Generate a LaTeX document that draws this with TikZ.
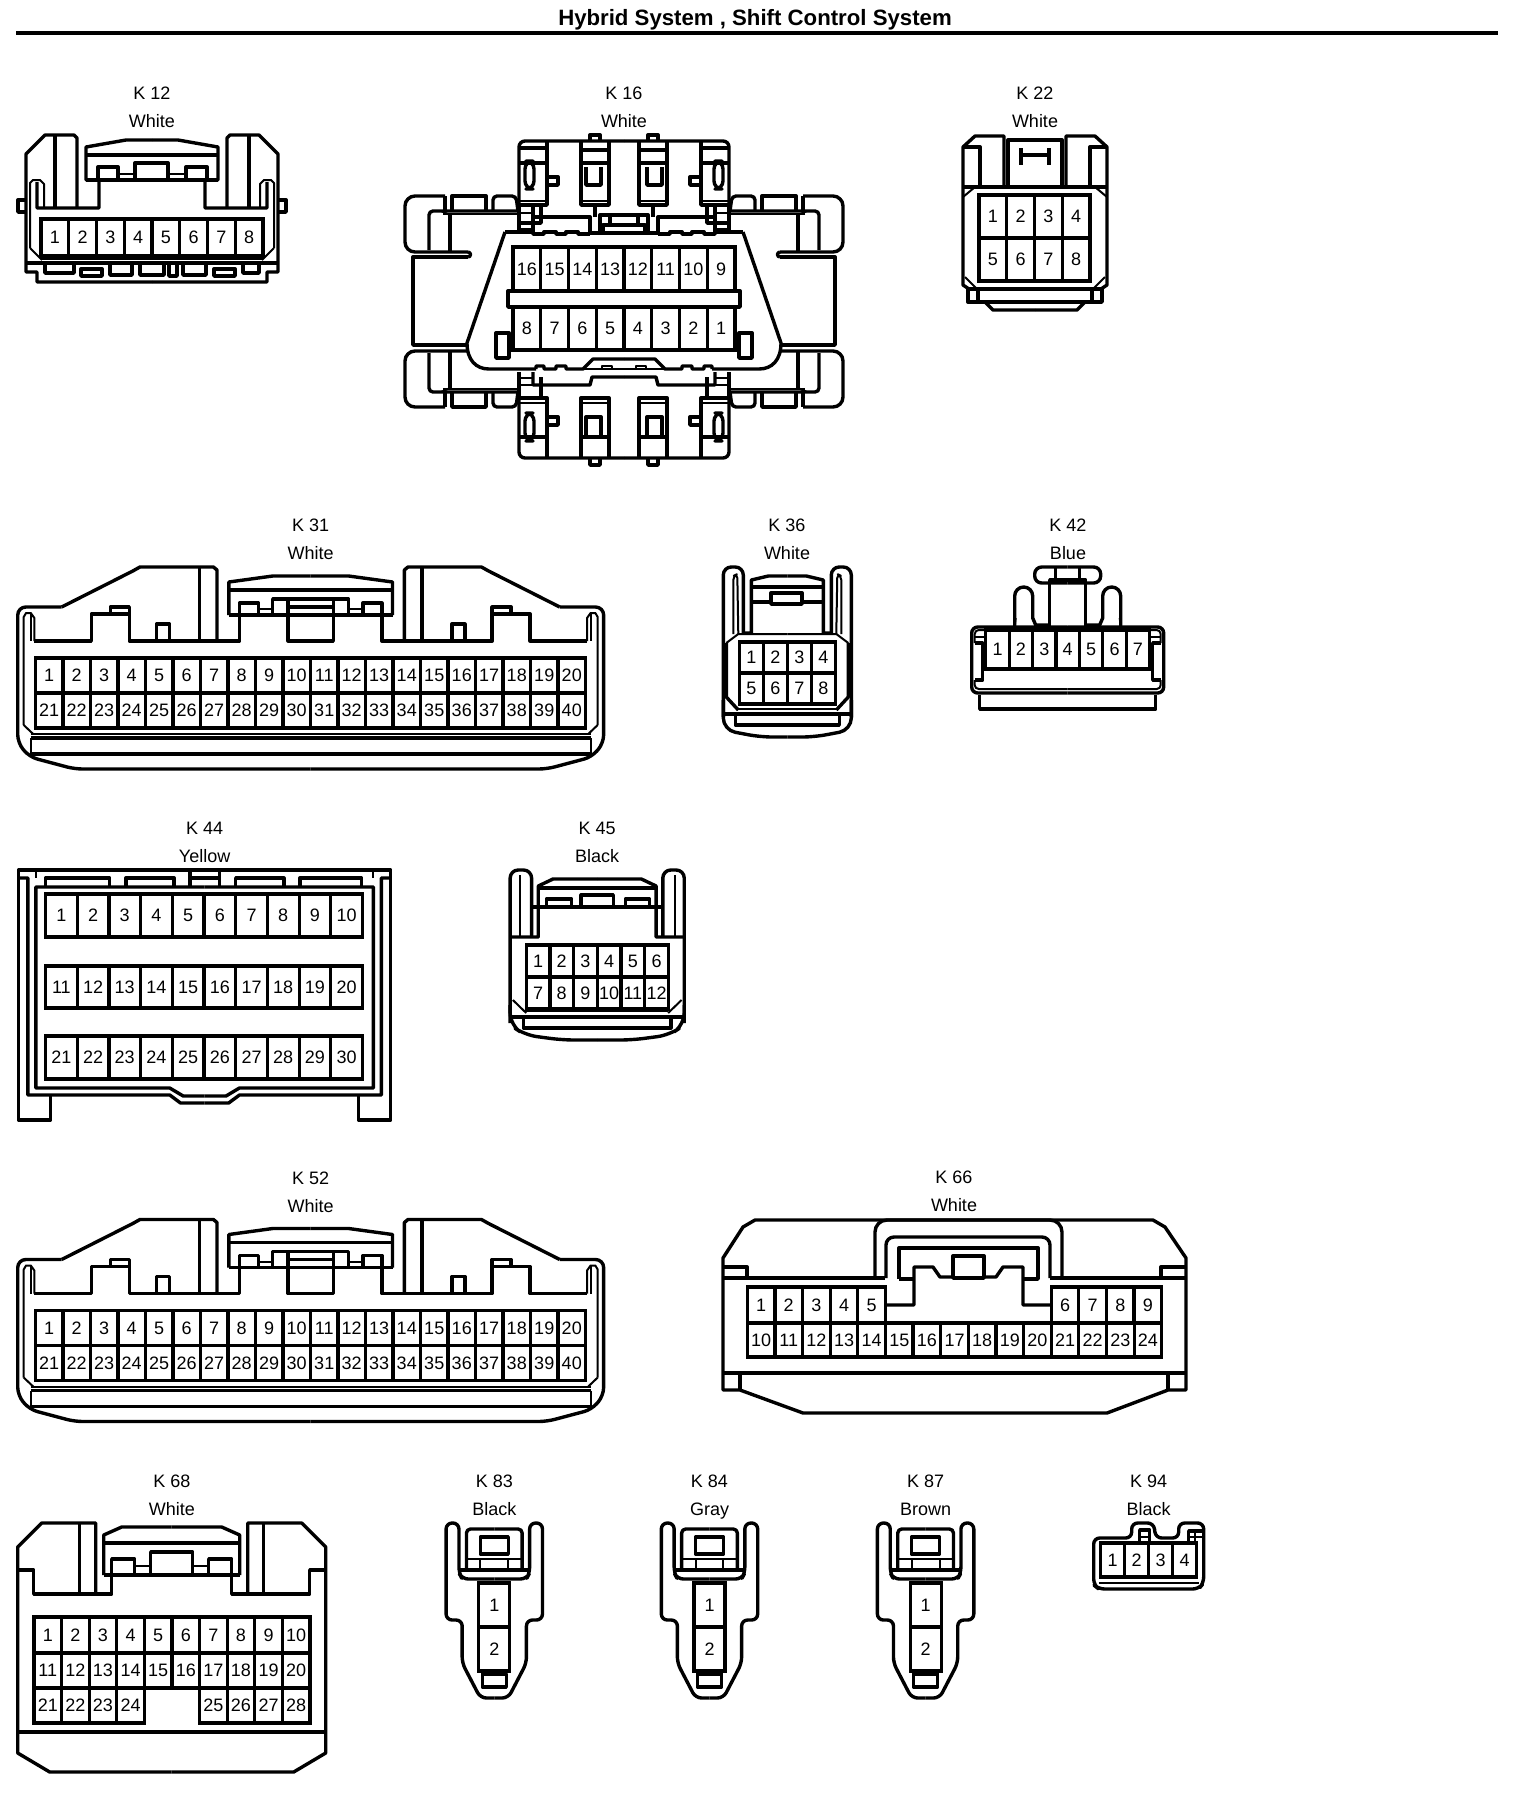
\documentclass[tikz,border=0pt]{standalone}
\usepackage{fontspec}
\setmainfont{Liberation Sans}
\tikzstyle{body}=[line width=1.7pt,line join=round]
\tikzstyle{fine}=[line width=1pt,line join=round]
\tikzstyle{pincell}=[draw,line width=1.6pt,inner sep=0pt,outer sep=0pt,font=\fontsize{9}{9}\selectfont]
\tikzstyle{caption}=[inner sep=0pt,anchor=base,font=\fontsize{9}{9}\selectfont]
% name, left, top, cell width, cell height, pin numbers
\newcommand{\pinrow}[6]{%
  \foreach \pinno [count=\pinidx from 0] in {#6} {
    \node[pincell,minimum width=#4*0.5pt,minimum height=#5*0.5pt] (#1-\pinno) at ({#2+(\pinidx+0.5)*#4},{#3+0.5*#5}) {\pinno};
  }}
% name, x, y, connector, colour
\newcommand{\connlabel}[5]{%
  \node[caption] (#1id) at (#2,#3+6.5) {#4};
  \node[caption] (#1col) at (#2,#3+34) {#5};}
% the 40 pin housing
\newcommand{\widebody}[1]{%
  \foreach \sgn in {1,-1}{
    \begin{scope}[shift={(310.7,#1)},xscale=\sgn*1.186]
      \draw[body,rounded corners=4pt] (0,769) -- (-199,769) -- (-237,757) -- (-247,743) -- (-247,607) -- (-210,607);
      \draw[body] (-210,607) -- (-150,571) -- (-144,567) -- (-82,567) -- (-79,570) -- (-79,641);
      \draw[body] (-94,567) -- (-94,641);
      \draw[body] (-233,641) -- (-185,641) -- (-185,614) -- (-153,614) -- (-153,641) -- (-60,641) -- (-60,615);
      \draw[body] (-169,614) -- (-169,607) -- (-153,607) -- (-153,614);
      \draw[body] (-130,641) -- (-130,624) -- (-119,624) -- (-119,641);
      \draw[fine] (-242,725) -- (-242,617) -- (-240,613) -- (-236,613) -- (-233,618) -- (-233,641);
      \draw[fine] (-236,613) -- (-236,641);
      \draw[fine] (-242,725) -- (-234,734);
      \draw[body] (-69,615) -- (-69,582) -- (-32,576) -- (0,576);
      \draw[body] (-69,590) -- (0,590);
      \draw[body] (-69,615) -- (0,615);
      \draw[body] (-60,615) -- (-60,603) -- (-44,603) -- (-44,615);
      \draw[fine] (-44,609) -- (-32,609);
      \draw[body] (-32,615) -- (-32,599) -- (0,599);
      \draw[body] (-19,599) -- (-19,641) -- (0,641);
      \draw[body] (-19,607) -- (0,607);
      \draw[fine] (-236,734) -- (0,734);
      \draw[body] (-236,738) -- (0,738);
      \draw[fine] (-236,738) -- (-236,756);
      \draw[body] (-236,754) -- (0,754);
    \end{scope}
  }
  \pinrow{w#1a}{35.5}{658+#1}{27.5}{35}{1,2,3,4,5,6,7,8,9,10,11,12,13,14,15,16,17,18,19,20}
  \pinrow{w#1b}{35.5}{693+#1}{27.5}{35}{21,22,23,24,25,26,27,28,29,30,31,32,33,34,35,36,37,38,39,40}
}
% the two pin plug
\newcommand{\smallplug}[2]{%
  \foreach \sgn in {1,-1}{
    \begin{scope}[shift={(#1,0)},xscale=\sgn*1.071]
      \draw[body,rounded corners=3pt] (0,1579) -- (-30,1579) -- (-33,1573) -- (-33,1523) -- (-45,1523) -- (-45,1620) -- (-30,1620) -- (-30,1663) -- (-13,1698) -- (0,1698);
      \draw[body,rounded corners=2pt] (-26,1570) -- (-26,1529) -- (0,1529);
      \draw[fine] (-26,1559) -- (0,1559);
      \draw[fine] (-13,1559) -- (-13,1570);
      \draw[body] (-33,1570) -- (0,1570);
    \end{scope}
  }
  \draw[body] (#1-14,1537) rectangle (#1+14,1554);
  \draw[body] (#1-12,1674) rectangle (#1+12,1687);
  \node[pincell,minimum width=15.5pt,minimum height=22pt] (#2-1) at (#1,1605) {1};
  \node[pincell,minimum width=15.5pt,minimum height=22pt] (#2-2) at (#1,1649) {2};
}
\begin{document}
\begin{tikzpicture}[x=0.5pt,y=-0.5pt]
  \useasboundingbox (0,0) rectangle (1520,1796);
  \node[inner sep=0pt,font=\fontsize{11.1}{11}\selectfont\bfseries] (title) at (755,20) {Hybrid System , Shift Control System};
  \coordinate (ruleL) at (16,33);
  \coordinate (ruleR) at (1498,33);
  \draw[line width=2pt] (ruleL) -- (ruleR);
  %
  % K 12
  \connlabel{k12}{152}{93}{K 12}{White}
  \foreach \sgn in {1,-1}{
    \begin{scope}[shift={(152,0)},xscale=\sgn]
      \draw[body] (0,282) -- (-115,282) -- (-115,272) -- (-126,272) -- (-126,154) -- (-107,135) -- (-78,135) -- (-75,138) -- (-75,208);
      \draw[body] (-97,135) -- (-97,208);
      \draw[body] (-115,182) -- (-115,208) -- (-53,208) -- (-53,180) -- (-66,180) -- (-66,147) -- (-26,140) -- (0,140);
      \draw[body] (-66,155) -- (0,155);
      \draw[body] (-66,180) -- (-53,180);
      \draw[body] (-126,200) -- (-134,200) -- (-134,212) -- (-126,212);
      \draw[fine] (-122,248) -- (-122,183) -- (-119,180) -- (-112,180) -- (-108,184) -- (-108,208);
      \draw[fine] (-122,248) -- (-110,260);
      \draw[body] (-126,263) -- (0,263);
      \draw[fine] (-111,259) -- (0,259);
    \end{scope}
  }
  \foreach \potl/\potr/\potb in {45/74/273,110/132/275,140/164/275,169/177/276,183/206/275,243/259/273}{
    \draw[body] (\potl,264) -- (\potl,\potb) -- (\potr,\potb) -- (\potr,264);
  }
  \draw[body] (81,269) rectangle (102,276);
  \draw[body] (214,269) rectangle (235,276);
  \draw[fine] (118,174) -- (136,174);
  \draw[fine] (168,174) -- (186,174);
  \draw[body] (98,180) -- (98,167) -- (118,167) -- (118,180);
  \draw[body] (135,180) -- (135,163) -- (168,163) -- (168,180);
  \draw[body] (186,180) -- (186,167) -- (207,167) -- (207,180);
  \draw[body] (86,180) -- (218,180);
  \pinrow{k12}{41}{219}{27.75}{37}{1,2,3,4,5,6,7,8}
  %
  % K 16
  \connlabel{k16}{624}{93}{K 16}{White}
  \foreach \sgn in {1,-1}{
    \begin{scope}[shift={(624,0)},xscale=\sgn]
      \draw[body,rounded corners=3pt] (0,141) -- (-105,141) -- (-105,205);
      \draw[body] (-105,148) -- (-77,148);
      \draw[body] (-77,141) -- (-77,205) -- (-105,205);
      \draw[body] (-105,163) -- (-77,163);
      \draw[fine] (-105,201) -- (-77,201);
      \draw[body] (-43,141) -- (-43,205) -- (-15,205) -- (-15,141);
      \draw[body] (-43,150) -- (-15,150);
      \draw[body] (-43,163) -- (-15,163);
      \draw[fine] (-43,201) -- (-15,201);
      \draw[body] (-38,167) -- (-38,185) -- (-23,185) -- (-23,167);
      \draw[body] (-34,141) -- (-34,135) -- (-24,135) -- (-24,141);
      \draw[body,rounded corners=4pt] (-99,161) rectangle (-90,189);
      \draw[body] (-77,177) -- (-66,177) -- (-66,185) -- (-77,185);
      % middle latch
      \draw[body] (-29,205) -- (-29,217);
      \draw[body] (-91,207) -- (-91,232);
      \draw[body] (-91,217) -- (-34,217) -- (-34,232);
      \draw[body] (-83,207) -- (-83,223) -- (-105,223);
      \draw[body] (-105,207) -- (-105,232);
      \draw[fine] (-105,213) -- (-91,213);
      \draw[fine] (-105,229) -- (-91,229);
      \draw[body] (-24,232) -- (-24,215) -- (0,215);
      \draw[body] (-14,215) -- (-14,225);
      \draw[body] (-21,232) -- (-21,225) -- (0,225);
      \draw[body] (-119,232) -- (-91,232) -- (-91,234) -- (-80,234) -- (-80,232) -- (-68,232) -- (-68,234) -- (-58,234) -- (-58,232) -- (-46,232) -- (-46,234) -- (-34,234);
      \draw[body] (-34,233) -- (0,233);
      % collar
      \draw[body] (-119,232) -- (-157,343) .. controls (-157,360) and (-148,369) .. (-135,369) -- (-88,369);
      \draw[body] (-88,369) -- (-88,366) -- (-80,366) -- (-80,369) -- (-68,369) -- (-68,366) -- (-58,366) -- (-58,369) -- (-41,369) -- (-31,359) -- (0,359);
      \draw[fine] (-41,369) -- (0,369);
      \draw[fine] (-22,369) -- (-22,366) -- (-12,366) -- (-12,369);
      \draw[body] (-128,333) rectangle (-115,358);
      % lower latch
      \draw[body] (-91,372) -- (-91,385) -- (-34,385) -- (-32,377) -- (0,377);
      \draw[body] (-83,377) -- (-83,398);
      \draw[body] (-105,372) -- (-105,398);
      \draw[fine] (-105,378) -- (-91,378);
      \draw[fine] (-105,385) -- (-91,385);
      % lower housing
      \draw[body,rounded corners=3pt] (-105,398) -- (-105,458) -- (0,458);
      \draw[body] (-105,398) -- (-77,398) -- (-77,458);
      \draw[fine] (-105,403) -- (-77,403);
      \draw[body] (-105,437) -- (-77,437);
      \draw[body] (-43,458) -- (-43,398) -- (-15,398) -- (-15,458);
      \draw[fine] (-43,403) -- (-15,403);
      \draw[body] (-43,437) -- (-15,437);
      \draw[body] (-38,437) -- (-38,417) -- (-23,417) -- (-23,437);
      \draw[body,rounded corners=4pt] (-99,413) rectangle (-90,441);
      \draw[body] (-77,417) -- (-66,417) -- (-66,425) -- (-77,425);
      \draw[body] (-34,458) -- (-34,465) -- (-24,465) -- (-24,458);
      % side wings
      \draw[body] (-156,257) -- (-211,257) -- (-211,345) -- (-157,345);
      \foreach \flp/\off in {1/0,-1/603}{
        \begin{scope}[shift={(0,\off)},yscale=\flp]
          \draw[body,rounded corners=5pt] (-179,196) -- (-219,196) -- (-219,252) -- (-156,252);
          \draw[body] (-172,211) -- (-172,196) -- (-138,196) -- (-138,211);
          \draw[body,rounded corners=2pt] (-131,211) -- (-131,196) -- (-108,196) -- (-106,211);
          \draw[body] (-179,196) -- (-179,211);
          \draw[body,rounded corners=2pt] (-195,250) -- (-195,211) -- (-106,211);
          \draw[fine] (-181,214) -- (-104,214);
          \draw[body] (-174,214) -- (-174,252);
          \draw[fine] (-183,211) -- (-174,215);
        \end{scope}
      }
      \draw[body] (-156,252) arc[start angle=-90,end angle=90,radius=2.5];
    \end{scope}
  }
  \draw[body] (508,291) rectangle (740,307);
  \pinrow{k16t}{513}{247}{27.75}{44}{16,15,14,13,12,11,10,9}
  \pinrow{k16b}{513}{307}{27.75}{43}{8,7,6,5,4,3,2,1}
  %
  % K 22
  \connlabel{k22}{1035}{93}{K 22}{White}
  \foreach \sgn in {1,-1}{
    \begin{scope}[shift={(1035,0)},xscale=\sgn]
      \draw[body] (-66,289) -- (-72,285) -- (-72,147) -- (-60,136) -- (-31,136) -- (-31,187);
      \draw[body] (-72,147) -- (-55,147) -- (-55,187);
      \draw[body] (-72,187) -- (0,187);
      \draw[fine] (-72,197) -- (-60,187);
      \draw[fine] (-70,277) -- (-59,288);
      \draw[body] (-27,187) -- (-27,140) -- (0,140);
      \draw[body] (-14,148) -- (-14,165);
      \draw[body] (-14,155) -- (0,155);
      \draw[body] (-66,289) -- (0,289);
      \draw[body] (-67,289) -- (-67,302) -- (0,302);
      \draw[body] (-57,289) -- (-57,302);
      \draw[body] (-50,302) -- (-42,310) -- (0,310);
    \end{scope}
  }
  \pinrow{k22a}{979}{195}{27.75}{43}{1,2,3,4}
  \pinrow{k22b}{979}{238}{27.75}{43}{5,6,7,8}
  %
  % K 31
  \connlabel{k31}{310.7}{525}{K 31}{White}
  \widebody{0}
  %
  % K 36
  \connlabel{k36}{787}{525}{K 36}{White}
  \foreach \sgn in {1,-1}{
    \begin{scope}[shift={(787.3,0)},xscale=\sgn]
      \draw[body,rounded corners=4pt] (-44,633) -- (-44,567) -- (-64,567) -- (-64,717);
      \draw[body,rounded corners=6pt] (-64,700) -- (-64,730) -- (-27,737) -- (0,737);
      \draw[fine,rounded corners=2pt] (-54,634) -- (-54,576) -- (-50,574) -- (-49,634);
      \draw[body] (-44,633) -- (-36,633) -- (-36,580) -- (-19,576) -- (0,576);
      \draw[body] (-36,587) -- (0,587);
      \draw[body] (-36,602) -- (-16,602);
      \draw[fine] (-61,643) -- (-49,634) -- (0,634);
      \draw[body] (-61,643) -- (-61,697) -- (-49,710);
      \draw[fine] (-49,709) -- (0,709);
      \draw[body] (-64,714) -- (0,714);
      \draw[body] (-52,714) -- (-52,725) -- (0,725);
    \end{scope}
  }
  \draw[body] (771,593) rectangle (802,604);
  \pinrow{k36a}{739.3}{642}{24}{31}{1,2,3,4}
  \pinrow{k36b}{739.3}{673}{24}{31}{5,6,7,8}
  %
  % K 42
  \connlabel{k42}{1068}{525}{K 42}{Blue}
  \foreach \sgn in {1,-1}{
    \begin{scope}[shift={(1067.7,0)},xscale=\sgn]
      \draw[body,rounded corners=3pt] (0,627) -- (-96,627) -- (-96,693) -- (0,693);
      \draw[fine,rounded corners=2pt] (0,630) -- (-93,630) -- (-93,643);
      \draw[body] (-93,643) -- (-85,643) -- (-85,680) -- (-93,680);
      \draw[fine] (-93,637) -- (-83,637);
      \draw[fine,rounded corners=2pt] (-93,680) -- (-93,689) -- (0,689);
      \draw[body] (-88,695) -- (-88,709) -- (0,709);
      \draw[body,rounded corners=3.5pt] (0,567) -- (-33,567) -- (-33,583) -- (0,583);
      \draw[body] (-12,567) -- (-12,580);
      \draw[body] (-18,628) -- (-18,580) -- (0,580);
      \draw[body] (-18,628) -- (0,628);
      \draw[body] (-53,626) -- (-53,596) arc[start angle=180,end angle=360,radius=9] -- (-35,618) -- (-32,625) -- (-18,625);
      \draw[fine] (-53,626) -- (-52,618);
    \end{scope}
  }
  \pinrow{k42}{985.8}{630}{23.4}{39}{1,2,3,4,5,6,7}
  %
  % K 44
  \connlabel{k44}{204.6}{828}{K 44}{Yellow}
  \foreach \sgn in {1,-1}{
    \begin{scope}[shift={(204.6,0)},xscale=\sgn*1.339]
      \draw[body] (0,870) -- (-139,870) -- (-139,1120) -- (-115,1120) -- (-115,1095);
      \draw[body] (-139,878) -- (-132,878) -- (-132,1095) -- (-26,1095) -- (-18,1103) -- (0,1103);
      \draw[fine] (-126,870) -- (-126,878);
      \draw[body] (0,887) -- (-126,887) -- (-126,1088) -- (-26,1088) -- (-16,1096) -- (0,1096);
    \end{scope}
  }
  \begin{scope}[xscale=1.339]
    \foreach \tabl/\tabr in {34/82,94/130,176/212,224/270}{
      \draw[body] (\tabl,887) -- (\tabl,878) -- (\tabr,878) -- (\tabr,887);
    }
    \draw[body] (142,870) -- (142,887);
    \draw[body] (164,870) -- (164,887);
    \draw[body] (142,878) -- (164,878);
  \end{scope}
  \pinrow{k44a}{45.5}{894}{31.7}{43}{1,2,3,4,5,6,7,8,9,10}
  \pinrow{k44b}{45.5}{966}{31.7}{42}{11,12,13,14,15,16,17,18,19,20}
  \pinrow{k44c}{45.5}{1036}{31.7}{43}{21,22,23,24,25,26,27,28,29,30}
  %
  % K 45
  \connlabel{k45}{597.2}{828}{K 45}{Black}
  \foreach \sgn in {1,-1}{
    \begin{scope}[shift={(597.2,0)},xscale=\sgn*1.339]
      \draw[body,rounded corners=4pt] (-49,937) -- (-49,870) -- (-65,870) -- (-65,1023);
      \draw[body,rounded corners=6pt] (-65,1005) -- (-65,1025) -- (-54,1035) -- (-26,1040) -- (0,1040);
      \draw[fine] (-58,937) -- (-58,875);
      \draw[body] (-65,937) -- (-44,937) -- (-44,886) -- (-33,879) -- (0,879);
      \draw[body] (-49,907) -- (0,907);
      \draw[body] (-44,888) -- (0,888);
      \draw[fine] (-63,1000) -- (-53,1013);
      \draw[fine] (-53,1011) -- (0,1011);
      \draw[body] (-65,1017) -- (0,1017);
      \draw[body] (-55,1017) -- (-55,1028) -- (0,1028);
    \end{scope}
  }
  \begin{scope}[xscale=1.339]
    \draw[body] (408,907) -- (408,899) -- (427,899) -- (427,907);
    \draw[body] (434,907) -- (434,895) -- (458,895) -- (458,907);
    \draw[body] (467,907) -- (467,899) -- (485,899) -- (485,907);
  \end{scope}
  \pinrow{k45a}{526.2}{945}{23.7}{32}{1,2,3,4,5,6}
  \pinrow{k45b}{526.2}{977}{23.7}{32}{7,8,9,10,11,12}
  %
  % K 52
  \connlabel{k52}{310.7}{1178}{K 52}{White}
  \widebody{652.5}
  %
  % K 66
  \connlabel{k66}{954}{1177}{K 66}{White}
  \draw[body] (723,1390) -- (723,1258) -- (743,1227) -- (755,1220) -- (1153,1220) -- (1165,1227) -- (1186,1258) -- (1186,1390) -- (1168,1390) -- (1107,1413) -- (803,1413) -- (740,1390) -- cycle;
  \draw[body] (740,1373) -- (740,1390);
  \draw[body] (1168,1373) -- (1168,1390);
  \draw[body] (723,1373) -- (1186,1373);
  \draw[body] (723,1278) -- (885,1278);
  \draw[body] (1050,1278) -- (1186,1278);
  \draw[body] (723,1267) -- (747,1267) -- (747,1278);
  \draw[body] (1186,1267) -- (1161,1267) -- (1161,1278);
  \draw[body,rounded corners=6pt] (875,1278) -- (875,1220) -- (1062,1220) -- (1062,1278);
  \draw[body,rounded corners=4pt] (886,1278) -- (886,1237) -- (1050,1237) -- (1050,1278);
  \draw[body] (899,1279) -- (899,1248) -- (1038,1248) -- (1038,1279) -- (1023,1279);
  \draw[body] (899,1279) -- (914,1279);
  \draw[body] (953,1278) -- (953,1256) -- (984,1256) -- (984,1278) -- cycle;
  \draw[body] (886,1305) -- (914,1305) -- (914,1267) -- (933,1267) -- (940,1277) -- (953,1277);
  \draw[body] (1050,1305) -- (1023,1305) -- (1023,1267) -- (1003,1267) -- (996,1277) -- (984,1277);
  \pinrow{k66a}{747.3}{1287}{27.63}{36}{1,2,3,4,5}
  \pinrow{k66c}{1051.2}{1287}{27.63}{36}{6,7,8,9}
  \pinrow{k66b}{747.3}{1323}{27.63}{34}{10,11,12,13,14,15,16,17,18,19,20,21,22,23,24}
  %
  % K 68
  \connlabel{k68}{172}{1481}{K 68}{White}
  \foreach \sgn in {1,-1}{
    \begin{scope}[shift={(171.7,0)},xscale=\sgn]
      \draw[body] (-154,1570) -- (-138,1570) -- (-138,1594) -- (-60,1594) -- (-60,1575);
      \draw[body] (0,1772) -- (-122,1772) -- (-154,1753) -- (-154,1547) -- (-130,1523) -- (-76,1523) -- (-76,1594);
      \draw[body] (-92,1523) -- (-92,1594);
      \draw[body] (-68,1575) -- (-68,1535) -- (-50,1527) -- (0,1527);
      \draw[body] (-68,1543) -- (0,1543);
      \draw[body] (-68,1575) -- (0,1575);
      \draw[body] (-60,1575) -- (-60,1559) -- (-37,1559) -- (-37,1575);
      \draw[fine] (-37,1566) -- (-21,1566);
      \draw[body] (-21,1575) -- (-21,1552) -- (0,1552);
      \draw[body] (-154,1732) -- (0,1732);
    \end{scope}
  }
  \pinrow{k68a}{34}{1617}{27.6}{36}{1,2,3,4,5,6,7,8,9,10}
  \pinrow{k68b}{34}{1653}{27.6}{35}{11,12,13,14,15,16,17,18,19,20}
  \pinrow{k68c}{34}{1688}{27.6}{35}{21,22,23,24}
  \pinrow{k68d}{199.6}{1688}{27.6}{35}{25,26,27,28}
  %
  % K 83, K 84, K 87
  \connlabel{k83}{494.3}{1481}{K 83}{Black}
  \smallplug{494.3}{k83}
  \connlabel{k84}{709.5}{1481}{K 84}{Gray}
  \smallplug{709.5}{k84}
  \connlabel{k87}{925.6}{1481}{K 87}{Brown}
  \smallplug{925.6}{k87}
  %
  % K 94
  \connlabel{k94}{1148.7}{1481}{K 94}{Black}
  \begin{scope}[shift={(1148.7,0)}]
    \draw[body,rounded corners=3pt] (-55,1585) -- (-55,1538) -- (-17,1538) -- (-17,1523) -- (5,1523) -- (7,1538) -- (30,1538) -- (30,1523) -- (55,1523) -- (55,1583) -- (50,1589) -- (-50,1589) -- cycle;
    \draw[fine] (-50,1583) -- (50,1583);
    \draw[body] (-9,1543) -- (-9,1530) -- (1,1530) -- (1,1543);
    \draw[fine] (-9,1537) -- (1,1537);
    \draw[body] (40,1543) -- (40,1531) -- (53,1531);
    \draw[fine] (46,1531) -- (46,1543);
    \draw[fine] (40,1537) -- (55,1537);
  \end{scope}
  \pinrow{k94}{1100.7}{1543}{24}{34}{1,2,3,4}
\end{tikzpicture}
\end{document}
